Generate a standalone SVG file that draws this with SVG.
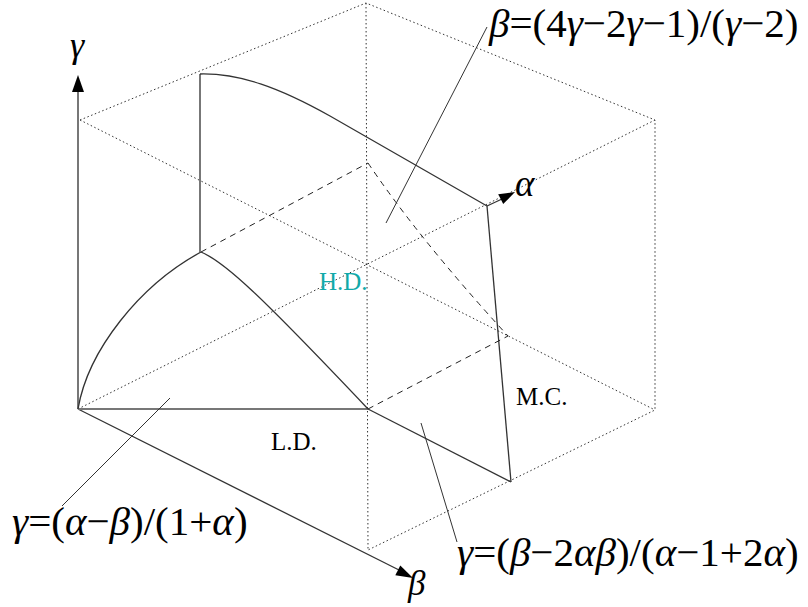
<svg xmlns="http://www.w3.org/2000/svg" width="808" height="607" viewBox="0 0 808 607">
<style>
.dot{fill:none;stroke:#333;stroke-width:1;stroke-dasharray:1.5 2.5}
.dash{fill:none;stroke:#222;stroke-width:1;stroke-dasharray:6 5}
.ax{fill:none;stroke:#777;stroke-width:2}
.ln{fill:none;stroke:#333;stroke-width:1.3}
.ptr{fill:none;stroke:#333;stroke-width:1}
.head{fill:#000;stroke:none}
.f{font-family:"Liberation Serif","Times New Roman",serif;fill:#000}
.g{font-style:italic}
</style>
<rect width="808" height="607" fill="#fff"/>
<g id="cube">
<path class="dot" d="M80,120 L366,3 L655,120 L655,410 L368,550"/>
<path class="dot" d="M366,3 L368,550"/>
<path class="dot" d="M80,120 L655,410"/>
<path class="dot" d="M78,409 L655,120"/>
</g>
<g id="axes">
<line class="ax" x1="78" y1="409" x2="78" y2="90"/>
<polygon class="head" points="78,75 72,92 84,92"/>
<line class="ln" x1="78" y1="409" x2="399" y2="570"/>
<polygon class="head" points="413,578 395.3,575.3 400.3,565.4"/>
<line class="ln" x1="487" y1="206" x2="502" y2="199"/>
<polygon class="head" points="515,192 503.2,204.1 498.2,194.2"/>
<text class="f g" x="70" y="57" font-size="36">γ</text>
<text class="f g" x="515" y="196" font-size="37">α</text>
<text class="f g" x="408" y="595" font-size="35">β</text>
</g>
<g id="surfaces">
<line class="ax" x1="78" y1="409" x2="368" y2="409"/>
<path class="ln" d="M78,409 C88,350 140,285 201,252"/>
<path class="ln" d="M201,252 C225,262 260,295 368,409"/>
<line class="ax" x1="200" y1="252" x2="200" y2="74"/>
<path class="ln" d="M200,74 C240,73 280,88 330,116 L487,206"/>
<line class="ln" x1="487" y1="206" x2="511" y2="482"/>
<line class="ln" x1="368" y1="409" x2="511" y2="482"/>
<path class="dash" d="M201,252 L368,163"/>
<path class="dash" d="M368,163 Q420,240 508,336"/>
<path class="dash" d="M368,409 L508,336"/>
</g>
<g id="pointers">
<line class="ptr" x1="487" y1="27" x2="386" y2="223"/>
<line class="ptr" x1="62" y1="506" x2="170" y2="398"/>
<line class="ptr" x1="421" y1="423" x2="457" y2="542"/>
</g>
<g id="labels">
<text class="f" x="319" y="290" font-size="25" style="fill:#12a9a9">H.D.</text>
<text class="f" x="516" y="405" font-size="25">M.C.</text>
<text class="f" x="271" y="450" font-size="25">L.D.</text>
<text class="f" x="489" y="37" font-size="41"><tspan class="g">β</tspan>=(4<tspan class="g">γ</tspan>−2<tspan class="g">γ</tspan>−1)/(<tspan class="g">γ</tspan>−2)</text>
<text class="f" x="12" y="535" font-size="41"><tspan class="g">γ</tspan>=(<tspan class="g">α</tspan>−<tspan class="g">β</tspan>)/(1+<tspan class="g">α</tspan>)</text>
<text class="f" x="457" y="566" font-size="41"><tspan class="g">γ</tspan>=(<tspan class="g">β</tspan>−2<tspan class="g">α</tspan><tspan class="g">β</tspan>)/(<tspan class="g">α</tspan>−1+2<tspan class="g">α</tspan>)</text>
</g>
</svg>
